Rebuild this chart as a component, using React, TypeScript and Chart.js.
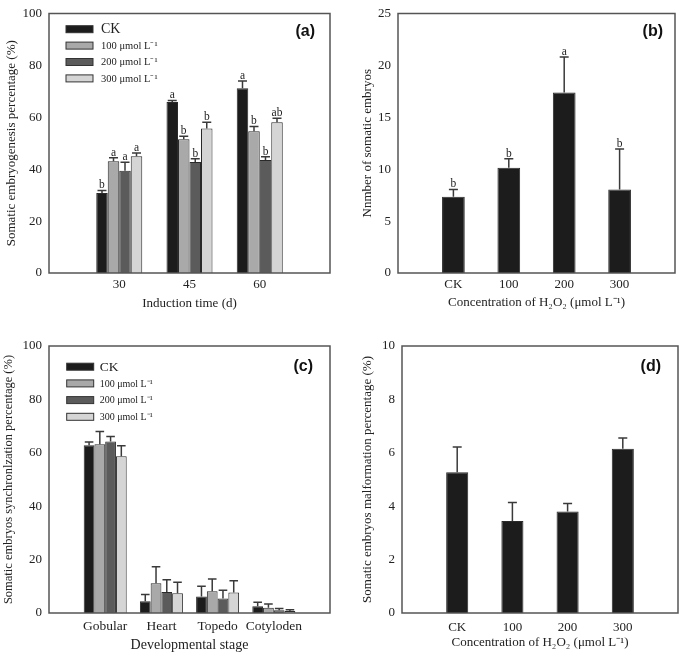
import React, { useEffect, useRef } from 'react';
import { Chart, registerables } from 'chart.js';
Chart.register(...registerables);

const SERIF = "'Liberation Serif', 'Times New Roman', Times, serif";
const SANS = "'Liberation Sans', Arial, Helvetica, sans-serif";
const TEXT = '#222222';

// ---- shared series ----
const SERIES = ['CK', '100 μmol L⁻¹', '200 μmol L⁻¹', '300 μmol L⁻¹'];
const SERIES_COLORS = ['#1c1c1c', '#a9a9a9', '#5b5b5b', '#d5d5d5'];

// ---- panel (a) ----
const A_CATS = ['30', '45', '60'];
const A_VALUES = [
  [30.8, 65.9, 71.2],
  [43.1, 51.5, 54.6],
  [39.4, 42.8, 43.5],
  [45.0, 55.7, 58.1],
];
const A_ERRORS = [
  [1.0, 0.6, 2.8],
  [1.3, 1.2, 1.9],
  [3.3, 1.2, 1.3],
  [1.2, 2.4, 1.5],
];
const A_LETTERS = [
  ['b', 'a', 'a'],
  ['a', 'b', 'b'],
  ['a', 'b', 'b'],
  ['a', 'b', 'ab'],
];
const A_TICKS = [0, 20, 40, 60, 80, 100];

// ---- panel (b) ----
const B_CATS = ['CK', '100', '200', '300'];
const B_VALUES = [7.35, 10.15, 17.4, 8.05];
const B_ERRORS = [0.7, 0.85, 3.4, 3.9];
const B_LETTERS = ['b', 'b', 'a', 'b'];
const B_TICKS = [0, 5, 10, 15, 20, 25];

// ---- panel (c) ----
const C_CATS = ['Gobular', 'Heart', 'Topedo', 'Cotyloden'];
const C_VALUES = [
  [62.8, 4.4, 6.2, 2.5],
  [63.2, 11.1, 8.1, 2.0],
  [64.2, 7.9, 5.4, 1.0],
  [58.7, 7.4, 7.7, 0.75],
];
const C_ERRORS = [
  [1.2, 2.5, 3.8, 1.5],
  [4.8, 6.2, 4.6, 1.4],
  [1.9, 4.6, 3.1, 0.7],
  [3.9, 4.1, 4.4, 0.45],
];
const C_TICKS = [0, 20, 40, 60, 80, 100];

// ---- panel (d) ----
const D_CATS = ['CK', '100', '200', '300'];
const D_VALUES = [5.27, 3.45, 3.8, 6.15];
const D_ERRORS = [0.95, 0.69, 0.3, 0.4];
const D_TICKS = [0, 2, 4, 6, 8, 10];

const pad = (arr: any[]) => [null, ...arr, null];
const padLabels = (arr: string[]) => ['', ...arr, ''];

const decorPlugin = {
  id: 'decor',
  afterDatasetsDraw(chart: any, _args: any, opts: any) {
    const { ctx, chartArea } = chart;
    const y = chart.scales.y;
    ctx.save();
    // error bars + letters
    chart.data.datasets.forEach((ds: any, i: number) => {
      const meta = chart.getDatasetMeta(i);
      meta.data.forEach((bar: any, j: number) => {
        const v = ds.data[j];
        const e = ds.errors ? ds.errors[j] : null;
        if (v == null || e == null) return;
        const yTop = y.getPixelForValue(v + e);
        const half = Math.min(4.5, bar.width * 0.4);
        ctx.strokeStyle = '#3a3a3a';
        ctx.lineWidth = 1.5;
        ctx.beginPath();
        ctx.moveTo(bar.x, bar.y);
        ctx.lineTo(bar.x, yTop);
        ctx.moveTo(bar.x - half, yTop);
        ctx.lineTo(bar.x + half, yTop);
        ctx.stroke();
        const letter = ds.letters ? ds.letters[j] : null;
        if (letter) {
          ctx.fillStyle = TEXT;
          ctx.font = `11.5px ${SERIF}`;
          ctx.textAlign = 'center';
          ctx.textBaseline = 'bottom';
          ctx.fillText(letter, bar.x, yTop + 0.5);
        }
      });
    });
    // frame
    ctx.strokeStyle = '#555555';
    ctx.lineWidth = 1.5;
    ctx.strokeRect(chartArea.left, chartArea.top, chartArea.right - chartArea.left, chartArea.bottom - chartArea.top);
    // panel label
    if (opts.label) {
      ctx.fillStyle = '#111';
      ctx.font = `bold 16px ${SANS}`;
      ctx.textAlign = 'right';
      ctx.textBaseline = 'middle';
      ctx.fillText(opts.label.text, chartArea.right - opts.label.dx, chartArea.top + opts.label.dy);
    }
    // legend
    if (opts.legend) {
      const L = opts.legend;
      chart.data.datasets.forEach((ds: any, i: number) => {
        const cy = chartArea.top + L.dy + i * L.spacing;
        const bx = chartArea.left + L.dx;
        ctx.fillStyle = ds.backgroundColor;
        ctx.fillRect(bx, cy - 3.5, 27, 7);
        ctx.strokeStyle = '#333';
        ctx.lineWidth = 1;
        ctx.strokeRect(bx, cy - 3.5, 27, 7);
        ctx.fillStyle = TEXT;
        ctx.font = i === 0 ? `${L.big}px ${SERIF}` : `${L.small}px ${SERIF}`;
        ctx.textAlign = 'left';
        ctx.textBaseline = 'middle';
        ctx.fillText(ds.label, bx + 27 + L.gap, cy + 0.5);
      });
    }
    ctx.restore();
  },
};

function makeConfig(p: any) {
  return {
    type: 'bar',
    data: { labels: p.labels, datasets: p.datasets },
    plugins: [decorPlugin],
    options: {
      responsive: false,
      animation: false,
      devicePixelRatio: 1,
      layout: { padding: { top: p.padTop, right: p.padRight, left: 0, bottom: 0 } },
      plugins: {
        legend: { display: false },
        tooltip: { enabled: false },
        decor: { label: p.label, legend: p.legend },
      },
      datasets: { bar: { categoryPercentage: p.catPct, barPercentage: 1 } },
      scales: {
        x: {
          type: 'category',
          offset: false,
          grid: { display: false, drawTicks: false },
          border: { display: false },
          ticks: {
            autoSkip: false,
            maxRotation: 0,
            minRotation: 0,
            padding: p.xTickPad,
            color: TEXT,
            font: { family: SERIF, size: p.xTickSize },
          },
          title: {
            display: true,
            text: p.xTitle,
            color: TEXT,
            font: { family: SERIF, size: p.xTitleSize },
            padding: { top: 0, bottom: p.xTitlePad },
          },
          afterFit: (s: any) => { s.height = p.xHeight; },
        },
        y: {
          min: p.yTicks[0],
          max: p.yTicks[p.yTicks.length - 1],
          afterBuildTicks: (s: any) => { s.ticks = p.yTicks.map((v: number) => ({ value: v })); },
          grid: { display: false, drawTicks: false },
          border: { display: false },
          ticks: {
            padding: 7,
            color: TEXT,
            font: { family: SERIF, size: 13, lineHeight: 1 },
          },
          title: {
            display: true,
            text: p.yTitle,
            color: TEXT,
            font: { family: SERIF, size: p.yTitleSize },
            padding: { top: p.yTitlePad, bottom: 0 },
          },
          afterFit: (s: any) => { s.width = p.yWidth; },
        },
      },
    },
  };
}

function Panel({ left, top, width, height, params }: any) {
  const ref = useRef<HTMLCanvasElement | null>(null);
  useEffect(() => {
    if (!ref.current) return;
    const chart = new Chart(ref.current, makeConfig(params) as any);
    return () => chart.destroy();
  }, []);
  return (
    <div style={{ position: 'absolute', left, top, width, height }}>
      <canvas ref={ref} width={width} height={height} style={{ display: 'block' }} />
    </div>
  );
}

const groupDatasets = (values: number[][], errors: number[][], letters?: string[][]) =>
  SERIES.map((name, i) => ({
    label: name,
    data: pad(values[i]),
    errors: pad(errors[i]),
    letters: letters ? pad(letters[i]) : undefined,
    backgroundColor: SERIES_COLORS[i],
    borderColor: '#2a2a2a',
    borderWidth: 1,
  }));

const singleDataset = (values: number[], errors: number[], letters?: string[]) => [
  {
    label: 'mean',
    data: pad(values),
    errors: pad(errors),
    letters: letters ? pad(letters) : undefined,
    backgroundColor: '#1c1c1c',
    borderColor: '#2a2a2a',
    borderWidth: 1,
  },
];

const PANEL_A = {
  labels: padLabels(A_CATS),
  datasets: groupDatasets(A_VALUES, A_ERRORS, A_LETTERS),
  padTop: 7, padRight: 12, yWidth: 49, xHeight: 47,
  catPct: 0.655,
  xTickPad: 3.5, xTickSize: 13, xTitle: 'Induction time (d)', xTitleSize: 13, xTitlePad: 9,
  yTicks: A_TICKS, yTitle: 'Somatic embryogenesis percentage (%)', yTitleSize: 13, yTitlePad: 4,
  label: { text: '(a)', dx: 15, dy: 18 },
  legend: { dx: 17, dy: 15.7, spacing: 16.4, big: 14, small: 10.5, gap: 8 },
};

const PANEL_B = {
  labels: padLabels(B_CATS),
  datasets: singleDataset(B_VALUES, B_ERRORS, B_LETTERS),
  padTop: 7, padRight: 10, yWidth: 56, xHeight: 47,
  catPct: 0.41,
  xTickPad: 4, xTickSize: 13, xTitle: 'Concentration of H₂O₂ (μmol L⁻¹)', xTitleSize: 13, xTitlePad: 10,
  yTicks: B_TICKS, yTitle: 'Nnmber of somatic embryos', yTitleSize: 13, yTitlePad: 17.7,
  label: { text: '(b)', dx: 12, dy: 18 },
  legend: null,
};

const PANEL_C = {
  labels: padLabels(C_CATS),
  datasets: groupDatasets(C_VALUES, C_ERRORS),
  padTop: 26, padRight: 12, yWidth: 49, xHeight: 43,
  catPct: 0.765,
  xTickPad: 5.7, xTickSize: 13.5, xTitle: 'Developmental stage', xTitleSize: 14, xTitlePad: 2.6,
  yTicks: C_TICKS, yTitle: 'Somatic embryos synchronlzation percentage (%)', yTitleSize: 12.5, yTitlePad: 1.5,
  label: { text: '(c)', dx: 17, dy: 21 },
  legend: { dx: 17.7, dy: 20.7, spacing: 16.7, big: 13.5, small: 10, gap: 6 },
};

const PANEL_D = {
  labels: padLabels(D_CATS),
  datasets: singleDataset(D_VALUES, D_ERRORS),
  padTop: 26, padRight: 3, yWidth: 60, xHeight: 43,
  catPct: 0.4,
  xTickPad: 7, xTickSize: 13, xTitle: 'Concentration of H₂O₂ (μmol L⁻¹)', xTitleSize: 13, xTitlePad: 5.5,
  yTicks: D_TICKS, yTitle: 'Somatic embryos malformation percentage (%)', yTitleSize: 13, yTitlePad: 17.7,
  label: { text: '(d)', dx: 17, dy: 21 },
  legend: null,
};

export default function App() {
  return (
    <div style={{ position: 'absolute', left: 0, top: 0, width: 685, height: 656, background: '#ffffff' }}>
      <Panel left={0} top={0} width={342} height={320} params={PANEL_A} />
      <Panel left={342} top={0} width={343} height={320} params={PANEL_B} />
      <Panel left={0} top={320} width={342} height={336} params={PANEL_C} />
      <Panel left={342} top={320} width={343} height={336} params={PANEL_D} />
    </div>
  );
}
